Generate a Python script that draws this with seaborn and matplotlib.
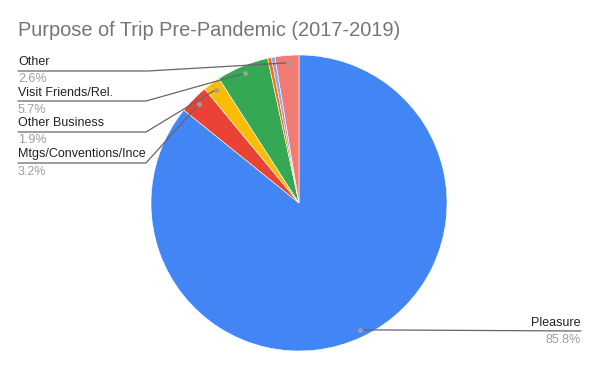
import numpy as np
import seaborn as sns
import matplotlib.pyplot as plt

# chart data
purposes = ["Pleasure", "Mtgs/Conventions/Ince", "Other Business",
            "Visit Friends/Rel.", "(unlabeled 1)", "(unlabeled 2)", "Other"]
shares = [85.8, 3.2, 1.9, 5.7, 0.4, 0.4, 2.6]
show_label = [True, True, True, True, False, False, True]
slice_colors = ["#4285F4", "#EA4335", "#FBBC04", "#34A853",
                "#FF6D01", "#7BAAF7", "#F07B72"]

W, H = 600, 371
CX, CY, R = 299, 203, 148  # pie centre / radius in pixels


def to_data(px, py):
    return (px - CX) / R, (CY - py) / R


# label placement in pixels: (text y, underline y, percent y, elbow x, side)
label_pos = {
    "Other": (62, 71, 79, 148, "left"),
    "Visit Friends/Rel.": (93, 101, 110, 146, "left"),
    "Other Business": (123, 132, 140, 146, "left"),
    "Mtgs/Conventions/Ince": (154, 163, 172, 146, "left"),
    "Pleasure": (323, 331, 340, 581, "right"),
}


def main():
    sns.set_theme(style="white")
    plt.rcParams["font.family"] = ["Liberation Sans", "DejaVu Sans"]

    fig = plt.figure(figsize=(W / 100, H / 100), dpi=100)
    ax = fig.add_axes([(CX - R) / W, (H - CY - R) / H, 2 * R / W, 2 * R / H])

    palette = sns.color_palette(slice_colors)
    wedges, _ = ax.pie(shares, colors=palette, startangle=90, counterclock=False,
                       radius=1, wedgeprops=dict(edgecolor="white", linewidth=0.4))
    ax.set_xlim(-1, 1)
    ax.set_ylim(-1, 1)
    ax.set_aspect("auto")
    ax.axis("off")

    for wedge, name, pct, show in zip(wedges, purposes, shares, show_label):
        if not show:
            continue
        mid = np.deg2rad((wedge.theta1 + wedge.theta2) / 2)
        dx, dy = 0.95 * np.cos(mid), 0.95 * np.sin(mid)
        ty, ly, py, ex, side = label_pos[name]
        x_end = 18 if side == "left" else 581
        ex_d, ly_d = to_data(ex, ly)
        xe_d, _ = to_data(x_end, ly)
        ax.plot([dx, ex_d, xe_d], [dy, ly_d, ly_d], color="#666666", lw=0.9,
                clip_on=False, zorder=3)
        ax.plot([dx], [dy], "o", ms=3.5, color="#9e9e9e", mec="none",
                clip_on=False, zorder=4)
        ha = "left" if side == "left" else "right"
        tx, tyd = to_data(x_end, ty)
        ax.text(tx, tyd, name, ha=ha, va="center", fontsize=9,
                color="#222222", clip_on=False)
        _, pyd = to_data(x_end, py)
        ax.text(tx, pyd, f"{pct:.1f}%", ha=ha, va="center", fontsize=9,
                color="#9e9e9e", clip_on=False)

    fig.text(18 / W, 1 - 31 / H, "Purpose of Trip Pre-Pandemic (2017-2019)",
             ha="left", va="center", fontsize=14.4, color="#757575")

    fig.savefig("out.png", dpi=100, facecolor="white")


if __name__ == "__main__":
    main()
